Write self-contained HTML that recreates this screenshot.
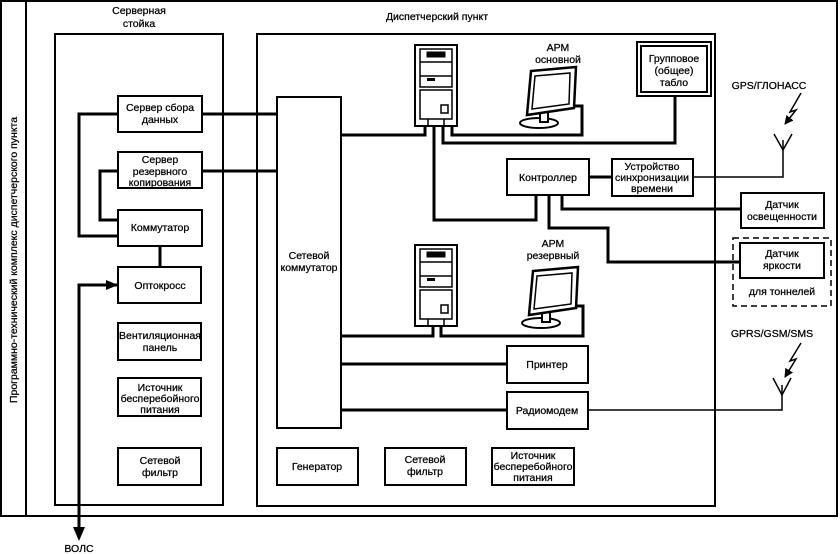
<!DOCTYPE html>
<html><head><meta charset="utf-8"><style>
html,body{margin:0;padding:0;background:#fff;}
svg{display:block;}
text{font-family:"Liberation Sans",sans-serif;font-size:10.5px;fill:#000;text-anchor:middle;stroke:#000;stroke-width:0.25px;}
</style></head><body>
<svg width="840" height="554" viewBox="0 0 840 554" xmlns="http://www.w3.org/2000/svg">
<defs>
<marker id="ar" markerWidth="9" markerHeight="9" refX="8" refY="4.5" orient="auto" markerUnits="userSpaceOnUse"><path d="M0,0 L9,4.5 L0,9 z" fill="#000"/></marker>
<marker id="ar2" markerWidth="12" markerHeight="10" refX="11" refY="5" orient="auto" markerUnits="userSpaceOnUse"><path d="M0,0 L12,5 L0,10 z" fill="#000"/></marker>
<g id="tower" fill="#fff" stroke="#000">
<rect x="415" y="45" width="42" height="81" stroke-width="2"/>
<rect x="420" y="49" width="32" height="38" stroke-width="1.5"/>
<rect x="427" y="52" width="18" height="5" fill="#000"/>
<line x1="420" y1="62" x2="452" y2="62" stroke-width="1.5"/>
<line x1="420" y1="76" x2="452" y2="76" stroke-width="1.5"/>
<rect x="427" y="78" width="8" height="3" fill="#000" stroke="none"/>
<rect x="420" y="90" width="32" height="29" stroke-width="1.5"/>
<rect x="441" y="105" width="7" height="8" stroke-width="1.5"/>
<line x1="428" y1="119" x2="428" y2="126" stroke-width="1.5"/>
<line x1="444" y1="119" x2="444" y2="126" stroke-width="1.5"/>
</g>
<g id="mon" fill="#fff" stroke="#000">
<ellipse cx="539" cy="123" rx="19" ry="5" stroke-width="2"/>
<rect x="540" y="112" width="8" height="10" stroke-width="2"/>
<path d="M531,71 L576,67 L574,108 L527,115 Z" stroke-width="2.5"/>
<path d="M535,76 L570,73 L569,104 L532,109 Z" stroke-width="1.5"/>
</g>
</defs>
<g fill="none" stroke="#000">
<rect x="1" y="1" width="836" height="515" stroke-width="2"/>
<line x1="26" y1="1" x2="26" y2="516" stroke-width="2"/>
<rect x="55" y="34" width="168" height="471" stroke-width="2"/>
<rect x="257" y="34" width="458" height="472" stroke-width="2"/>
</g>
<text x="139" y="14" font-size="11">Серверная</text>
<text x="139" y="27" font-size="11">стойка</text>
<text x="437" y="20" font-size="11">Диспетчерский пункт</text>
<text transform="translate(17,260) rotate(-90)" font-size="11">Программно-технический комплекс диспетчерского пункта</text>
<g fill="none" stroke="#000" stroke-width="3">
<polyline points="202,114 277,114"/>
<polyline points="202,171 277,171"/>
<polyline points="118,114 79,114 79,236 118,236"/>
<polyline points="118,171 100,171 100,220 118,220"/>
<line x1="160" y1="246" x2="160" y2="267"/>
<polyline points="341,135 425,135 425,126"/>
<polyline points="443,126 443,143 675,143 675,96"/>
<polyline points="452,126 452,135 582,135 582,106 573,106"/>
<polyline points="434,126 434,220 536,220 536,195"/>
<line x1="589" y1="177" x2="612" y2="177"/>
<polyline points="562,195 562,209 741,209"/>
<polyline points="549,195 549,228 608,228 608,262 740,262"/>
<polyline points="341,336 433,336 433,326"/>
<polyline points="441,326 441,336 583,336 583,306 573,306"/>
<line x1="341" y1="364" x2="507" y2="364"/>
<line x1="341" y1="410" x2="507" y2="410"/>
</g>
<g fill="none" stroke="#000" stroke-width="1.5">
<polyline points="693,177 783,177 783,140"/>
<polyline points="774,134 783,150 792,134"/>
<polyline points="588,410 782,410 782,385"/>
<polyline points="773,378 782,395 791,378"/>
<polyline points="801,93 790,112 796,110 785,124" marker-end="url(#ar)"/>
<polyline points="801,343 790,361 796,359 785,377" marker-end="url(#ar)"/>
</g>
<polyline points="79,535 79,285 117,285" fill="none" stroke="#000" stroke-width="3" marker-end="url(#ar2)"/>
<polygon points="73,527 85,527 79,541" fill="#000"/>
<text x="79" y="552" font-size="11">ВОЛС</text>
<use href="#tower"/>
<use href="#tower" transform="translate(0,200)"/>
<use href="#mon"/>
<use href="#mon" transform="translate(2,200)"/>
<g fill="#fff" stroke="#000" stroke-width="2">
<rect x="118" y="96" width="84" height="36"/>
<rect x="118" y="152" width="84" height="36"/>
<rect x="118" y="210" width="84" height="36"/>
<rect x="118" y="267" width="83" height="36"/>
<rect x="118" y="323" width="83" height="37"/>
<rect x="118" y="378" width="83" height="38"/>
<rect x="118" y="448" width="83" height="37"/>
<rect x="277" y="97" width="64" height="331"/>
<rect x="637" y="42" width="74" height="54"/>
<rect x="641" y="46" width="66" height="46"/>
<rect x="507" y="159" width="82" height="36"/>
<rect x="612" y="159" width="81" height="37"/>
<rect x="741" y="193" width="83" height="35"/>
<rect x="740" y="243" width="84" height="35"/>
<rect x="507" y="346" width="81" height="37"/>
<rect x="507" y="392" width="81" height="37"/>
<rect x="277" y="448" width="81" height="37"/>
<rect x="385" y="448" width="81" height="37"/>
<rect x="492" y="448" width="82" height="37"/>
</g>
<rect x="733" y="238" width="98" height="68" fill="none" stroke="#000" stroke-width="1.5" stroke-dasharray="6,4"/>
<text x="160" y="111">Сервер сбора</text><text x="160" y="123">данных</text>
<text x="160" y="163">Сервер</text><text x="160" y="175">резервного</text><text x="160" y="186">копирования</text>
<text x="160" y="231">Коммутатор</text>
<text x="160" y="289">Оптокросс</text>
<text x="160" y="339">Вентиляционная</text><text x="160" y="351">панель</text>
<text x="160" y="391">Источник</text><text x="160" y="402">бесперебойного</text><text x="160" y="413">питания</text>
<text x="160" y="464">Сетевой</text><text x="160" y="476">фильтр</text>
<text x="309" y="259">Сетевой</text><text x="309" y="271">коммутатор</text>
<text x="558" y="51">АРМ</text><text x="558" y="63">основной</text>
<text x="553" y="247">АРМ</text><text x="553" y="259">резервный</text>
<text x="674" y="62">Групповое</text><text x="674" y="74">(общее)</text><text x="674" y="86">табло</text>
<text x="548" y="181">Контроллер</text>
<text x="652" y="170">Устройство</text><text x="652" y="181">синхронизации</text><text x="652" y="192">времени</text>
<text x="782" y="208">Датчик</text><text x="782" y="220">освещенности</text>
<text x="782" y="257">Датчик</text><text x="782" y="269">яркости</text>
<text x="782" y="295">для тоннелей</text>
<text x="769" y="89" font-size="11">GPS/ГЛОНАСС</text>
<text x="772" y="337" font-size="11">GPRS/GSM/SMS</text>
<text x="547" y="368">Принтер</text>
<text x="547" y="414">Радиомодем</text>
<text x="317" y="470">Генератор</text>
<text x="425" y="463">Сетевой</text><text x="425" y="475">фильтр</text>
<text x="533" y="459">Источник</text><text x="533" y="470">бесперебойного</text><text x="533" y="481">питания</text>
</svg>
</body></html>
